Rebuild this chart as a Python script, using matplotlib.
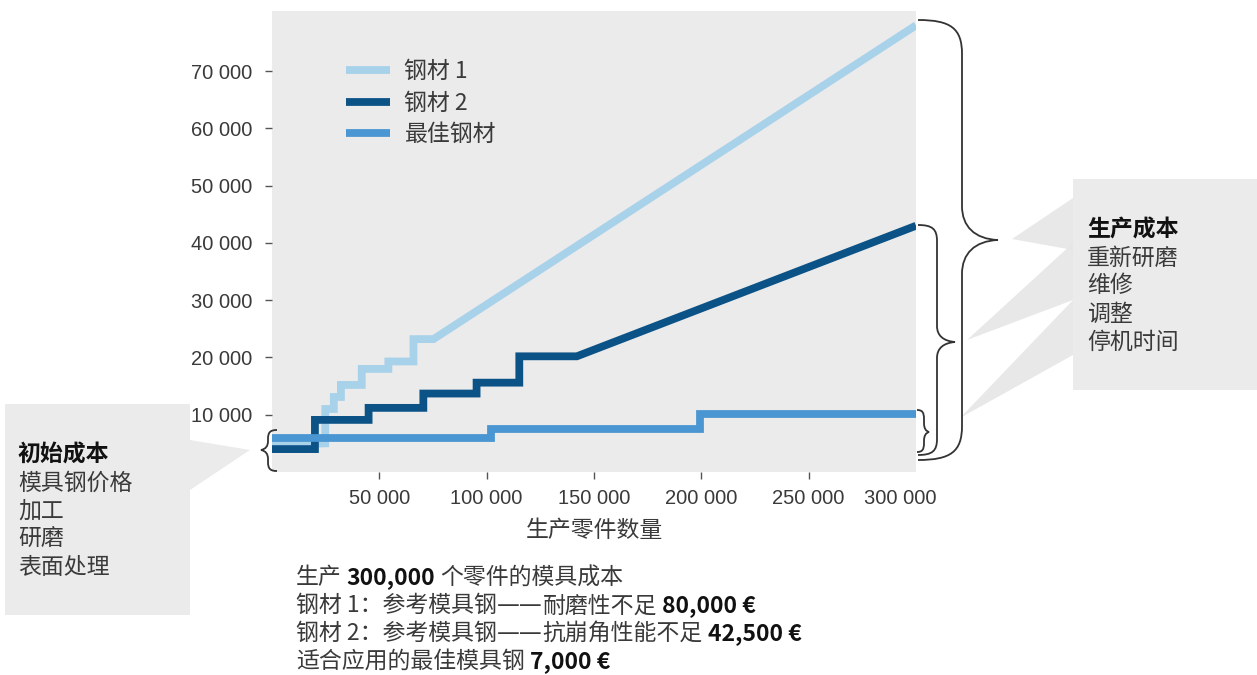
import matplotlib
matplotlib.use('Agg')
import matplotlib.pyplot as plt
import matplotlib.transforms as mtransforms
from matplotlib.path import Path
from matplotlib.patches import PathPatch, Rectangle, Polygon

plt.rcParams['font.family'] = ['Noto Sans CJK SC', 'DejaVu Sans']

# cost curves (parts produced -> tool cost)
steel1_x = [0, 24800, 24800, 28800, 28800, 32100, 32100, 41800, 41800, 54200, 54200, 65900, 65900, 75200, 300000]
steel1_y = [4700, 5000, 11000, 11000, 13100, 13100, 15200, 15200, 18000, 18000, 19300, 19300, 23200, 23200, 78000]

steel2_x = [0, 20000, 20000, 45000, 45000, 70500, 70500, 95300, 95300, 115200, 115200, 142000, 300000]
steel2_y = [4000, 4000, 9100, 9100, 11200, 11200, 13700, 13700, 15600, 15600, 20200, 20200, 43000]

best_x = [0, 102000, 102000, 199500, 199500, 300000]
best_y = [6000, 6000, 7500, 7500, 10200, 10200]

series_names = ['钢材 1', '钢材 2', '最佳钢材']

x_ticks = [50000, 100000, 150000, 200000, 250000, 300000]
x_tick_labels = ['50 000', '100 000', '150 000', '200 000', '250 000', '300 000']
y_ticks = [10000, 20000, 30000, 40000, 50000, 60000, 70000]
y_tick_labels = ['10 000', '20 000', '30 000', '40 000', '50 000', '60 000', '70 000']

x_label = '生产零件数量'
left_title = '初始成本'
left_items = ['模具钢价格', '加工', '研磨', '表面处理']
right_title = '生产成本'
right_items = ['重新研磨', '维修', '调整', '停机时间']

# (text, style, gap before in px); style: n = normal, b = bold, d = dash
caption = [
    [('生产', 'n', 0), ('300,000', 'b', 5), ('个零件的模具成本', 'n', 5)],
    [('钢材 1：参考模具钢', 'n', 0), ('——', 'd', 0), ('耐磨性不足', 'n', 0), ('80,000 €', 'b', 5)],
    [('钢材 2：参考模具钢', 'n', 0), ('——', 'd', 0), ('抗崩角性能不足', 'n', 0), ('42,500 €', 'b', 5)],
    [('适合应用的最佳模具钢', 'n', 0), ('7,000 €', 'b', 5)],
]

c_light = '#a8d1ea'
c_dark = '#0b5287'
c_mid = '#4a96d2'
panel = '#ebebeb'
txt = '#3a3a3a'

W, H = 1257, 675
fig = plt.figure(figsize=(W / 100, H / 100), dpi=100)

ax = fig.add_axes([272 / W, (H - 472) / H, 644 / W, 461 / H])
ax.set_facecolor(panel)
for sp in ax.spines.values():
    sp.set_visible(False)

lw = 5.6
kw = dict(solid_capstyle='butt', solid_joinstyle='miter')
ax.plot(steel1_x, steel1_y, color=c_light, lw=lw, label=series_names[0], zorder=2, **kw)
ax.plot(steel2_x, steel2_y, color=c_dark, lw=lw, label=series_names[1], zorder=3, **kw)
ax.plot(best_x, best_y, color=c_mid, lw=lw, label=series_names[2], zorder=4, **kw)

ax.set_xlim(0, 300000)
ax.set_ylim(0, 80500)
ax.set_xticks(x_ticks, x_tick_labels, fontfamily='Liberation Sans', fontsize=14.5, color=txt)
ax.set_yticks(y_ticks, y_tick_labels, fontfamily='Liberation Sans', fontsize=14.5, color=txt)
ax.tick_params(axis='both', direction='out', length=5, width=1, color='#555555')
ax.tick_params(axis='y', pad=9)
ax.tick_params(axis='x', pad=7)
last = ax.xaxis.get_major_ticks()[-1]
last.tick1line.set_visible(False)
# pull the last label in so it stays inside the figure
last.label1.set_transform(last.label1.get_transform() +
                          mtransforms.ScaledTranslation(-16 / 100, 0, fig.dpi_scale_trans))
ax.set_xlabel(x_label, fontsize=16.5, color=txt, labelpad=8)

leg = ax.legend(loc='upper left', bbox_to_anchor=(0.115, 0.893), frameon=False,
                fontsize=16.5, handlelength=1.9, handletextpad=0.65,
                labelspacing=0.36, borderpad=0, borderaxespad=0)
for t in leg.get_texts():
    t.set_color(txt)

# overlay in pixel coordinates for braces and callouts
ov = fig.add_axes([0, 0, 1, 1], zorder=5)
ov.set_xlim(0, W)
ov.set_ylim(H, 0)
ov.axis('off')
ov.patch.set_alpha(0)


def brace(x0, y0, y1, ym, s, t, r):
    verts = [(x0, y0), (x0 + s * 0.75, y0), (x0 + s, y0 + r * 0.25), (x0 + s, y0 + r),
             (x0 + s, ym - r),
             (x0 + s, ym - r * 0.4), (x0 + s + (t - s) * 0.35, ym - 1), (x0 + t, ym),
             (x0 + s + (t - s) * 0.35, ym + 1), (x0 + s, ym + r * 0.4), (x0 + s, ym + r),
             (x0 + s, y1 - r),
             (x0 + s, y1 - r * 0.25), (x0 + s * 0.75, y1), (x0, y1)]
    codes = [Path.MOVETO] + [Path.CURVE4] * 3 + [Path.LINETO] + [Path.CURVE4] * 6 + \
            [Path.LINETO] + [Path.CURVE4] * 3
    ov.add_patch(PathPatch(Path(verts, codes), fill=False, lw=1.3, ec='#333333'))


# callout boxes and pointers
ov.add_patch(Rectangle((5, 404), 185, 211, fc=panel, ec='none'))
ov.add_patch(Polygon([(190, 440), (250, 450), (190, 490)], fc=panel, ec='none'))
ov.add_patch(Rectangle((1073, 179), 190, 211, fc=panel, ec='none'))
for tip, top, bot in [((1012, 239), 198, 250), ((967, 340), 243, 300), ((960, 418), 300, 355)]:
    ov.add_patch(Polygon([(1073, top), tip, (1073, bot)], fc='#e6e6e6', ec='none', alpha=0.9))

brace(918, 20, 460, 240, 44, 80, 34)
brace(918, 225, 455, 342, 19, 37, 16)
brace(917, 410, 452, 432, 7, 12, 9)
brace(277, 430, 471, 450, -9, -16, 9)

ov.text(18, 455, left_title, fontsize=16.5, fontweight='bold', color='#111111', va='center')
for i, s in enumerate(left_items):
    ov.text(18, 483 + 28.3 * i, s, fontsize=16.5, color=txt, va='center')

ov.text(1087, 230, right_title, fontsize=16.5, fontweight='bold', color='#111111', va='center')
for i, s in enumerate(right_items):
    ov.text(1087, 258 + 28 * i, s, fontsize=16.5, color=txt, va='center')

# caption with bold figures
renderer = fig.canvas.get_renderer()
for i, parts in enumerate(caption):
    x = 296
    y = 578 + 27.8 * i
    for s, style, gap in parts:
        x += gap
        props = dict(fontsize=16.5, va='center', ha='left', color=txt)
        if style == 'b':
            props.update(fontweight='bold', color='#111111')
        elif style == 'd':
            props.update(fontfamily='DejaVu Sans')
        t = ov.text(x, y, s, **props)
        x = t.get_window_extent(renderer).x1

fig.savefig('out.png', dpi=100)
